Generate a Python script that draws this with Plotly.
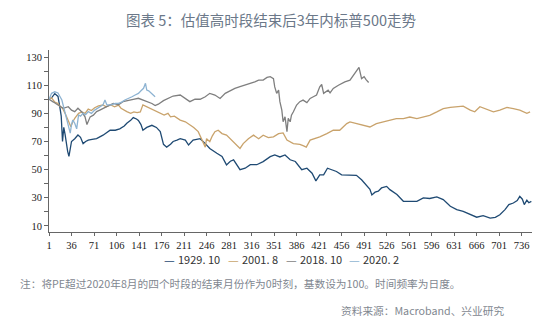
import plotly.graph_objects as go

# S&P 500 path (base = 100) during the 3 years after each high-valuation period ended.
# Each series: (trading day, index level)
s1929_10 = [(1,100),(5,101),(10,104),(15,102),(18,94),(20,88),(22,70),(24,80),(26,75),(28,68),(30,63),(32,59.5),(34,64),(36,70),(41,72),(46,74.6),(50,73),(54,68.5),(58,70),(62,71),(68,71.5),(75,72),(85,74.5),(96,78),(104,78),(111,79),(118,81),(122,83),(128,85),(132,87),(137,86),(140,85),(144,82),(147,78),(153,80),(161,81.5),(168,80),(174,77),(179,68),(184,66),(190,68),(194,70),(200,71),(205,72),(213,71),(218,67.5),(225,71),(236,72),(244,68.5),(251,65),(262,61.6),(270,59.3),(277,53.4),(283,56),(288,57),(298,50),(306,51),(314,53.5),(324,53.5),(334,55.7),(345,59.2),(352,60.4),(360,59),(368,60.4),(376,57),(384,55.8),(394,50),(402,51),(410,47.5),(416,42),(422,46.3),(428,46.3),(434,51),(441,50),(448,48.7),(456,46.3),(469,46.3),(479,46),(487,42.8),(495,38.1),(500,36),(503,32),(508,34),(513,34.7),(518,37),(526,38.1),(531,35.8),(542,32.3),(552,27.5),(562,27.5),(573,27.5),(583,29.9),(593,29.5),(604,30.6),(614,28.7),(625,24),(635,21.6),(645,20.4),(656,18),(666,16.2),(676,17.3),(687,15.6),(695,16.1),(702,18),(710,21.6),(716,25.2),(723,26.3),(729,28),(733,31),(737,29),(740,25.2),(744,28.3),(747,26.5),(751,27.5)]

s2001_8 = [(1,100),(5,101),(10,98),(15,97),(18,95),(22,93.6),(26,90),(29,87),(32,83),(35,80.5),(38,84),(41,86.4),(47,90),(52,91),(57,90),(62,93),(67,92),(72,94),(78,95.3),(85,95.9),(90,94.7),(97,96),(103,94.7),(109,95.9),(113,93.6),(118,92),(122,91.2),(128,90),(133,91),(138,90.5),(143,91),(147,96),(153,94.7),(161,92.8),(168,91.5),(174,90),(180,88.8),(186,90),(190,87.5),(196,88),(205,85.2),(213,84),(220,82),(226,80),(233,77),(237,73),(241,68.5),(244,66),(246,72),(251,69.9),(255,74),(259,77),(264,78),(270,75.6),(277,74.5),(285,71),(293,67.5),(298,65.1),(303,68.5),(311,72),(319,74.5),(327,72),(334,74.5),(342,72.8),(350,73.3),(358,75.6),(365,76.1),(371,71),(381,68.5),(391,68),(396,67),(401,66),(407,71),(415,72),(422,73.3),(433,75.6),(443,78),(453,78),(464,82.7),(469,83.9),(479,82.7),(490,81.5),(500,80.3),(510,82.7),(521,83.9),(531,85),(541,86.3),(552,86.3),(562,87.4),(573,86.3),(583,87.4),(593,88.6),(604,91),(614,93.4),(625,94.2),(635,94.7),(645,95.1),(656,92.3),(663,91.1),(671,94.7),(682,92.8),(692,91.1),(702,92.3),(713,94.2),(723,93.4),(733,92.3),(744,90),(749,91.1)]

s2018_10 = [(1,100),(5,99),(8,98),(15,95.9),(23,93.6),(31,94.7),(36,92.3),(41,91.2),(46,93.6),(52,91),(57,87.5),(60,82),(63,86),(65,87.5),(70,88.7),(75,91.2),(80,92.3),(85,93.6),(93,95.3),(101,97),(109,96),(116,98.3),(124,99.4),(132,100),(140,100.7),(147,99.4),(155,98.3),(161,97),(166,95.5),(171,96.5),(179,99),(186,100.7),(194,102.3),(205,103),(213,100.5),(220,98.3),(228,100),(236,100),(244,101.8),(251,104.2),(259,103),(267,100.6),(275,104.2),(282,106),(290,107.7),(298,108.9),(306,110),(314,111.2),(321,112.4),(327,113.6),(334,113.6),(340,115.5),(345,116),(350,114.7),(352,108.8),(355,104.2),(358,106.5),(360,98.3),(363,92.3),(365,84),(368,87.5),(371,77),(373,86.4),(376,84),(378,88.7),(381,91.1),(386,95.9),(391,98.3),(396,99.4),(402,97.6),(407,100.6),(412,101.8),(417,103),(422,108.8),(425,110.5),(428,104.2),(435,106.5),(438,104.5),(443,107.7),(451,110),(456,111.2),(461,112.4),(469,113.6),(477,118.3),(483,122.6),(487,114.7),(491,116),(494,114),(498,111.9)]

s2020_2 = [(1,100),(5,104.2),(10,105.3),(15,104.5),(18,102),(21,99.5),(24,94),(26,90),(29,85),(31,80.5),(34,76),(36,82),(38,85.3),(41,83),(44,79),(47,88.8),(50,88),(54,90),(58,89),(62,91.2),(67,90),(72,92.3),(80,94.7),(85,96),(88,99.5),(91,96),(98,96),(104,97),(109,97.1),(114,98),(119,99.5),(125,100.5),(130,101.8),(135,103),(140,104.2),(144,106),(148,107.8),(151,111.3),(153,106.5),(156,106),(161,104.2),(166,101.8)]

series_names = ["1929. 10", "2001. 8", "2018. 10", "2020. 2"]
series_data = [s1929_10, s2001_8, s2018_10, s2020_2]
series_colors = ["#1f4a73", "#c9a36c", "#7f7f7f", "#8db3d2"]

x_ticks = list(range(1, 737, 35))
y_ticks = list(range(10, 131, 10))
y_ticktext = [str(v) if v % 20 == 10 else "" for v in y_ticks]

fig = go.Figure()
for name, data, color in zip(series_names, series_data, series_colors):
    days = [d for d, _ in data]
    vals = [v for _, v in data]
    fig.add_trace(go.Scatter(x=days, y=vals, mode="lines", name=name,
                             line=dict(color=color, width=1.3)))

# plot area geometry in pixels, used to place the texts around the axes
L, R, T, B, W, H = 49, 22, 50, 100, 554, 332
plot_w, plot_h = W - L - R, H - T - B


def px_x(px):
    return (px - L) / plot_w


def px_y(py):
    return (H - B - py) / plot_h


annotations = [
    dict(text="图表 5：估值高时段结束后3年内标普500走势", xref="paper", yref="paper",
         x=px_x(271), y=px_y(20), xanchor="center", yanchor="middle", showarrow=False,
         font=dict(family="Noto Sans CJK SC", size=14.5, color="#6b7889")),
    dict(text="注：将PE超过2020年8月的四个时段的结束月份作为0时刻，基数设为100。时间频率为日度。",
         xref="paper", yref="paper", x=px_x(18), y=px_y(283), xanchor="left", yanchor="middle",
         showarrow=False, font=dict(family="Noto Sans CJK SC", size=10.7, color="#7f8790")),
    dict(text="资料来源：Macroband、兴业研究", xref="paper", yref="paper",
         x=px_x(506), y=px_y(310), xanchor="right", yanchor="middle", showarrow=False,
         font=dict(family="Noto Sans CJK SC", size=10.7, color="#7f8790")),
]

# legend row: a coloured dash followed by the series name
legend_y = 259
legend_starts = [162, 226, 284, 347]
for start, name, color in zip(legend_starts, series_names, series_colors):
    annotations.append(dict(text="—", xref="paper", yref="paper", x=px_x(start), y=px_y(legend_y),
                            xanchor="left", yanchor="middle", showarrow=False,
                            font=dict(family="Noto Sans CJK SC", size=12, color=color)))
    annotations.append(dict(text=name, xref="paper", yref="paper", x=px_x(start + 14), y=px_y(legend_y),
                            xanchor="left", yanchor="middle", showarrow=False,
                            font=dict(family="Noto Sans CJK SC", size=11, color="#333333")))

axis_font = dict(family="Liberation Serif", size=10.5, color="#222222")

fig.update_layout(
    width=W, height=H,
    margin=dict(l=L, r=R, t=T, b=B),
    paper_bgcolor="white", plot_bgcolor="white",
    showlegend=False,
    xaxis=dict(range=[1, 752], tickvals=x_ticks, ticks="outside", ticklen=3,
               tickcolor="#666666", showline=True, linecolor="#666666", linewidth=1,
               showgrid=False, zeroline=False, tickfont=axis_font),
    yaxis=dict(range=[5.7, 135], tickvals=y_ticks, ticktext=y_ticktext,
               ticks="outside", ticklen=4, tickcolor="#666666",
               showline=True, linecolor="#666666", linewidth=1,
               showgrid=False, zeroline=False, tickfont=axis_font),
    annotations=annotations,
)

fig.write_html("out.html")
